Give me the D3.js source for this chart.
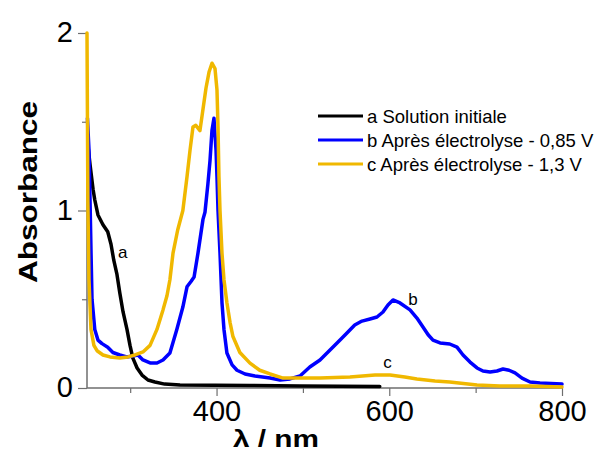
<!DOCTYPE html>
<html>
<head>
<meta charset="utf-8">
<script src="https://cdn.jsdelivr.net/npm/d3@7"></script>
<style>
  html, body { margin: 0; padding: 0; background: #fff; }
  svg { display: block; font-family: "Liberation Sans", Arial, sans-serif; }
</style>
</head>
<body>
<svg id="chart" width="602" height="452"></svg>
<script>
// ---- Data ----
const xTickValues = [300, 400, 500, 600, 700, 800];
const xTickLabels = ["", "400", "", "600", "", "800"];
const yTickValues = [0, 0.5, 1, 1.5, 2];
const yTickLabels = ["0", "", "1", "", "2"];

const seriesNames = ["a Solution initiale", "b Après électrolyse - 0,85 V", "c Après électrolyse - 1,3 V"];
const curveLabels = ["a", "b", "c"];

const lambdaA = [251, 253.5, 257, 259, 262.7, 268.5, 274, 277.8, 281, 284.7, 288, 291.7, 296.3, 299.8, 303, 308, 313.7, 320.6, 328.7, 340, 357.7, 438.7, 496.6, 589];
const absA    = [1.37, 1.26, 1.12, 1.06, 0.975, 0.92, 0.88, 0.81, 0.72, 0.64, 0.535, 0.43, 0.33, 0.24, 0.17, 0.113, 0.073, 0.045, 0.034, 0.022, 0.017, 0.014, 0.011, 0.008];

const lambdaB = [250.5, 252.3, 253.5, 254.6, 255.8, 259, 262.7, 267.4, 274, 280, 288, 296, 303, 309, 314.8, 323, 331, 338, 346, 354, 361, 365.8, 370.4, 374, 378.5, 384.3, 386.6, 390, 392.4, 394.7, 397, 399.4, 400.5, 401.7, 404, 406.3, 408.6, 412, 418, 423.7, 433, 444.5, 462, 473.5, 485, 496.6, 508, 519.8, 531.4, 543, 551, 560, 568.4, 577.7, 585.8, 592.7, 598.5, 604.3, 612.4, 624, 632, 639, 645, 650.6, 658.8, 670, 678.4, 685.4, 693.5, 701.6, 708.5, 716.7, 724.7, 731.7, 738.7, 745.6, 753.7, 763, 774.5, 800];
const absB    = [1.52, 1.34, 1.06, 0.78, 0.50, 0.33, 0.27, 0.25, 0.23, 0.20, 0.186, 0.175, 0.18, 0.186, 0.158, 0.141, 0.141, 0.158, 0.197, 0.33, 0.456, 0.57, 0.60, 0.625, 0.76, 0.95, 0.99, 1.15, 1.28, 1.45, 1.52, 1.34, 1.19, 1.0, 0.76, 0.48, 0.33, 0.197, 0.13, 0.10, 0.079, 0.068, 0.056, 0.045, 0.051, 0.068, 0.118, 0.158, 0.214, 0.27, 0.31, 0.355, 0.377, 0.389, 0.40, 0.428, 0.468, 0.496, 0.479, 0.44, 0.394, 0.344, 0.30, 0.27, 0.254, 0.248, 0.23, 0.186, 0.146, 0.113, 0.096, 0.09, 0.096, 0.107, 0.10, 0.085, 0.056, 0.034, 0.028, 0.022];

const lambdaC = [250, 251, 252.3, 254.6, 258, 261.6, 268.5, 276.6, 288, 297.5, 305.6, 314.8, 323, 331, 338, 342.6, 346, 349.6, 355, 361, 365.8, 369.3, 372.7, 376, 380.8, 384.3, 387.8, 391.3, 394.7, 398.2, 400.5, 401.7, 402.8, 404, 406.3, 408.6, 412, 415.6, 419, 427, 438.7, 450, 462, 477, 496.6, 519.8, 554.5, 583.5, 600.9, 618, 632, 653, 670, 701.6, 728, 763, 800];
const absC    = [2.0, 1.06, 0.61, 0.33, 0.24, 0.21, 0.186, 0.175, 0.169, 0.175, 0.186, 0.203, 0.24, 0.33, 0.44, 0.52, 0.61, 0.76, 0.89, 1.0, 1.19, 1.34, 1.47, 1.48, 1.45, 1.57, 1.69, 1.78, 1.83, 1.80, 1.68, 1.47, 1.19, 1.0, 0.76, 0.61, 0.48, 0.37, 0.29, 0.20, 0.14, 0.10, 0.079, 0.056, 0.056, 0.056, 0.062, 0.073, 0.073, 0.062, 0.051, 0.039, 0.034, 0.017, 0.011, 0.011, 0.006];

const seriesColors = ["#000000", "#0000ff", "#f0b800"];

// ---- Layout ----
const svg = d3.select("#chart");
const x = d3.scaleLinear().domain([250, 800]).range([87, 562]);
const y = d3.scaleLinear().domain([0, 2]).range([388, 33]);

const axisColor = "#6e6e6e";

const series = [
  d3.zip(lambdaA, absA),
  d3.zip(lambdaB, absB),
  d3.zip(lambdaC, absC)
];
const line = d3.line().x(d => x(d[0])).y(d => y(d[1]));

// Axes
const xAxis = d3.axisBottom(x)
  .tickValues(xTickValues)
  .tickFormat((d, i) => xTickLabels[i])
  .tickSizeOuter(0);
const gx = svg.append("g").attr("transform", `translate(0,${y(0)})`).call(xAxis);
gx.select(".domain").attr("stroke", axisColor).attr("stroke-width", 1.5).attr("d", `M${x(250)},0H${x(800)}`);
gx.selectAll(".tick line")
  .attr("stroke", axisColor).attr("stroke-width", 1.2)
  .attr("y2", (d, i) => xTickLabels[i] ? 8 : 5);
gx.selectAll(".tick text")
  .attr("fill", "#000").attr("font-size", 29).attr("y", 12).attr("dy", "0.71em")
  .attr("font-family", "Liberation Sans, Arial, sans-serif");

const yAxis = d3.axisLeft(y)
  .tickValues(yTickValues)
  .tickFormat((d, i) => yTickLabels[i])
  .tickSizeOuter(0);
const gy = svg.append("g").attr("transform", `translate(${x(250)},0)`).call(yAxis);
gy.select(".domain").attr("stroke", axisColor).attr("stroke-width", 1.5).attr("d", `M0,${y(0)}V${y(2)}`);
gy.selectAll(".tick line")
  .attr("stroke", axisColor).attr("stroke-width", 1.2)
  .attr("x2", (d, i) => yTickLabels[i] ? -9 : -5);
gy.selectAll(".tick text")
  .attr("fill", "#000").attr("font-size", 29).attr("x", -14).attr("dy", "0.3em")
  .attr("font-family", "Liberation Sans, Arial, sans-serif");

svg.append("g")
  .selectAll("path")
  .data(series)
  .join("path")
  .attr("d", line)
  .attr("fill", "none")
  .attr("stroke", (d, i) => seriesColors[i])
  .attr("stroke-width", 3.5)
  .attr("stroke-linejoin", "round")
  .attr("stroke-linecap", "round");

// Curve labels
const labelPos = [[286, 0.73], [622, 0.468], [593, 0.113]];
svg.append("g")
  .selectAll("text")
  .data(curveLabels)
  .join("text")
  .attr("x", (d, i) => x(labelPos[i][0]))
  .attr("y", (d, i) => y(labelPos[i][1]))
  .attr("font-size", 17)
  .attr("fill", "#000")
  .text(d => d);

// Axis titles
svg.append("text")
  .attr("transform", `translate(37,192) rotate(-90)`)
  .attr("text-anchor", "middle")
  .attr("font-size", 26)
  .attr("font-weight", "bold")
  .attr("textLength", 182)
  .attr("lengthAdjust", "spacingAndGlyphs")
  .text("Absorbance");

svg.append("text")
  .attr("x", 276)
  .attr("y", 447)
  .attr("text-anchor", "middle")
  .attr("font-size", 23)
  .attr("font-weight", "bold")
  .attr("textLength", 86)
  .attr("lengthAdjust", "spacingAndGlyphs")
  .text("λ / nm");

// Legend
const legend = svg.append("g");
const legY = [116, 140, 164];
seriesNames.forEach((name, i) => {
  legend.append("line")
    .attr("x1", 318).attr("x2", 363)
    .attr("y1", legY[i]).attr("y2", legY[i])
    .attr("stroke", seriesColors[i]).attr("stroke-width", 3);
  legend.append("text")
    .attr("x", 367).attr("y", legY[i] + 7)
    .attr("font-size", 18.5)
    .attr("fill", "#000")
    .text(name);
});
</script>
</body>
</html>
